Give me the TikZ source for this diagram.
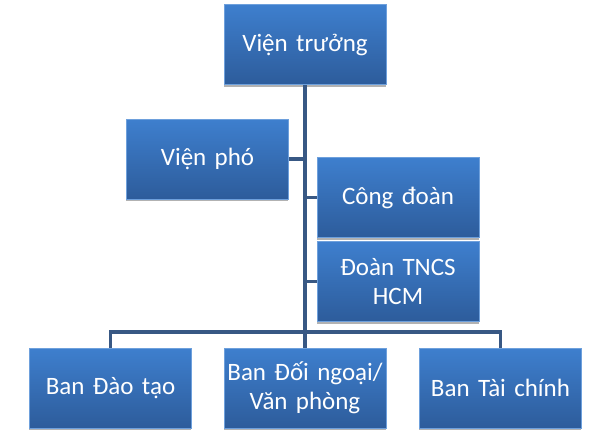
\documentclass[tikz,border=0pt]{standalone}
\usepackage{fontspec}
\setmainfont{Carlito}
\usepackage{xcolor}
\usetikzlibrary{shadows}
\definecolor{boxtop}{RGB}{62,127,206}
\definecolor{boxbottom}{RGB}{45,92,155}
\definecolor{boxedge}{RGB}{110,160,220}
\definecolor{linkblue}{RGB}{56,88,132}
\tikzset{
    org-box/.style = {rectangle, top color=boxtop, bottom color=boxbottom, draw=boxedge, line width=1pt,
        minimum width=162pt, minimum height=80pt, text width=162pt, align=center, inner sep=0pt,
        text=white, font=\fontsize{25}{29}\selectfont,
        drop shadow={shadow xshift=-0.5pt, shadow yshift=-2pt, fill=black, opacity=0.3}},
    org-line/.style = {draw=linkblue, line width=3.5pt},
}

\begin{document}
\begin{tikzpicture}[x=1pt, y=-1pt]
\useasboundingbox (0,0) rectangle (610,440);
\node [org-box] (truong) at (305,44.5) {Viện trưởng};
\node [org-box] (pho) at (207.5,159) {Viện phó};
\node [org-box] (congdoan) at (398,197.5) {Công đoàn};
\node [org-box] (doan) at (398,281.5) {Đoàn TNCS\\HCM};
\node [org-box] (daotao) at (110.5,388) {Ban Đào tạo};
\node [org-box] (doingoai) at (305,388) {Ban Đối ngoại/\\Văn phòng};
\node [org-box] (taichinh) at (500.5,388) {Ban Tài chính};
\coordinate (bus) at (305,332);
% connectors
\draw [org-line] (truong.south) -- (doingoai.north);
\draw [org-line] (pho.east) -- (pho.east -| truong.south);
\draw [org-line] (congdoan.west) -- (congdoan.west -| truong.south);
\draw [org-line] (doan.west) -- (doan.west -| truong.south);
\draw [org-line] (daotao.north) |- (bus) -| (taichinh.north);
\end{tikzpicture}
\end{document}
